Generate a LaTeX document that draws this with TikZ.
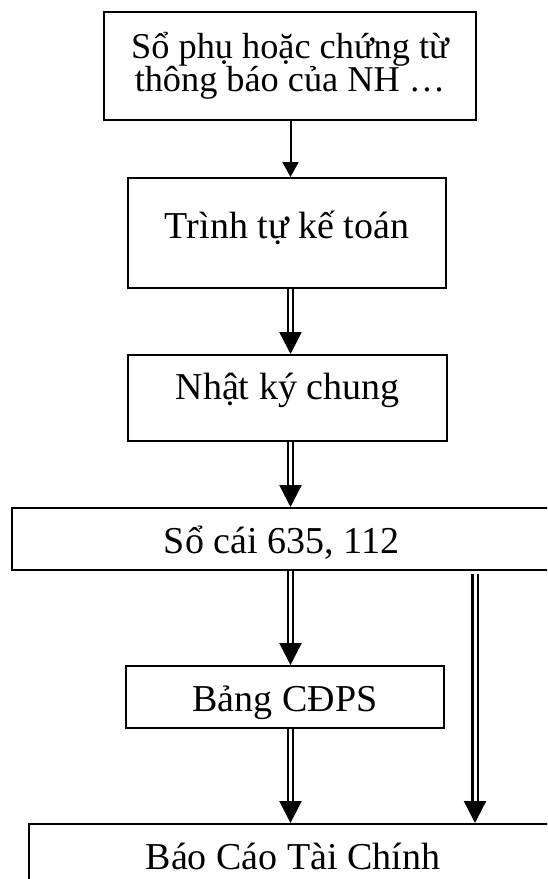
\documentclass[tikz,border=0pt]{standalone}
\usepackage{fontspec}
\setmainfont{Liberation Serif}
\usetikzlibrary{arrows.meta}
\begin{document}
\begin{tikzpicture}[x=1pt,y=-1pt,
  every node/.style={font=\fontsize{38}{34}\selectfont},
  box/.style={draw, line width=2pt, rectangle, inner xsep=0pt, inner ysep=0pt, anchor=north},
  single/.style={line width=2pt, -{Triangle[width=16pt,length=15pt]}},
  dbl/.style={line width=2.4pt, double, double distance=3pt, -{Triangle[width=22pt,length=22pt]}}]
\useasboundingbox (0,0) rectangle (547,879);
\clip (0,0) rectangle (547,879);
% boxes of the flow
\node[box, minimum width=372pt, minimum height=108pt, align=center,
  font=\fontsize{36.3}{33.5}\selectfont] (src) at (290,11)
  {Sổ phụ hoặc chứng từ\\thông báo của NH \dots};
\node[box, minimum width=318pt, text height=60pt, text depth=50pt] (seq) at (287,177) {Trình tự kế toán};
\node[box, minimum width=319pt, text height=44pt, text depth=42pt] (jnl) at (287.5,354) {Nhật ký chung};
\node[box, minimum width=539pt, text height=45pt, text depth=17pt] (ldg) at (281.5,507) {Sổ cái 635, 112};
\node[box, minimum width=318pt, text height=45pt, text depth=17pt] (tb) at (285,665) {Bảng CĐPS};
\node[box, minimum width=528pt, text height=45pt, text depth=35pt] (fin) at (293,823) {Báo Cáo Tài Chính};
% connectors
\coordinate (col) at (290.5,0);
\coordinate (side) at (475,574);
\draw[single] (src.south -| col) -- (seq.north -| col);
\draw[dbl] (seq.south -| col) -- (jnl.north -| col);
\draw[dbl] (jnl.south -| col) -- (ldg.north -| col);
\draw[dbl] (ldg.south -| col) -- (tb.north -| col);
\draw[dbl] (tb.south -| col) -- (fin.north -| col);
\draw[dbl] (side) -- (side |- fin.north);
\end{tikzpicture}
\end{document}
